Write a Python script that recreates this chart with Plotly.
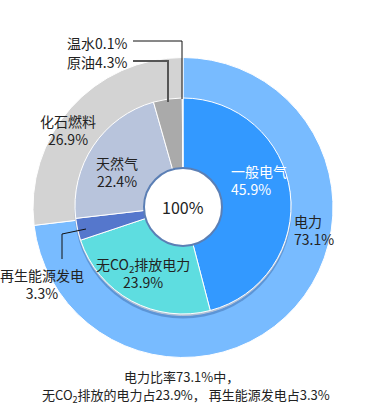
import plotly.graph_objects as go

W, H = 366, 414

# ---- data ----
outer_labels = ["电力", "化石燃料"]
outer_values = [73.1, 26.9]
inner_labels = ["一般电气", "无CO<sub>2</sub>排放电力", "再生能源发电", "天然气", "原油", "温水"]
inner_values = [45.9, 23.9, 3.3, 22.4, 4.3, 0.1]
total_label = "100%"
note_lines = ["电力比率73.1%中，", "无CO<sub>2</sub>排放的电力占23.9%， 再生能源发电占3.3%"]

outer_colors = ["#78BBFF", "#D3D3D3"]
inner_colors = ["#3399FF", "#5EDDE0", "#5577CC", "#B8C4DC", "#AAAAAA", "#C8C8C8"]

FONT = "Noto Sans CJK SC"
TXT = "#222222"


def px(x, y):
    return x / W, 1 - y / H


def dom(cx, cy, r):
    return dict(x=[(cx - r) / W, (cx + r) / W], y=[(H - cy - r) / H, (H - cy + r) / H])


fig = go.Figure()
fig.add_trace(go.Pie(
    labels=outer_labels, values=outer_values, sort=False, direction="clockwise", rotation=0,
    hole=108 / 150, domain=dom(183, 207.5, 150), textinfo="none", hoverinfo="skip",
    marker=dict(colors=outer_colors, line=dict(color="white", width=1)), showlegend=False))
# soft shadow under the inner ring
fig.add_trace(go.Pie(
    labels=["s"], values=[1], sort=False, domain=dom(183, 210, 108.5), textinfo="none",
    hoverinfo="skip", marker=dict(colors=["rgba(40,80,140,0.35)"], line=dict(width=0)),
    showlegend=False))
fig.add_trace(go.Pie(
    labels=inner_labels, values=inner_values, sort=False, direction="clockwise", rotation=0,
    hole=0.3, domain=dom(183, 206, 108), textinfo="none", hoverinfo="skip",
    marker=dict(colors=inner_colors, line=dict(color="white", width=1)), showlegend=False))

shapes = []
# center circle
x0, y1 = px(144, 168)
x1, y0 = px(222, 246)
shapes.append(dict(type="circle", xref="paper", yref="paper", x0=x0, x1=x1, y0=y0, y1=y1,
                   fillcolor="white", line=dict(color="#5B7FB5", width=2), layer="above"))


def poly(points, color, width):
    path = ""
    for i, (x, y) in enumerate(points):
        xx, yy = px(x, y)
        path += ("M" if i == 0 else "L") + f"{xx},{yy} "
    return dict(type="path", xref="paper", yref="paper", path=path.strip(),
                line=dict(color=color, width=width), layer="above")


shapes.append(poly([(133, 41), (182, 41), (182, 99)], "#111111", 1))
shapes.append(poly([(133, 61), (168, 61), (168, 102)], "#555555", 2))
shapes.append(poly([(86, 229), (62, 234), (62, 259)], "#111111", 1))

ann = []


def label(text, x, y, xanchor="center", color=TXT, size=14, align="center"):
    xx, yy = px(x, y)
    ann.append(dict(text=text, x=xx, y=yy, xref="paper", yref="paper", xanchor=xanchor,
                    yanchor="middle", align=align, showarrow=False,
                    font=dict(family=FONT, size=size, color=color)))


def pct(v):
    return f"{v}%"


label(f"{inner_labels[0]}<br>{pct(inner_values[0])}", 229, 180, "left", "white", align="left")
label(f"{outer_labels[0]}<br>{pct(outer_values[0])}", 292, 230, "left", align="left")
label(f"{inner_labels[3]}<br>{pct(inner_values[3])}", 117, 171.5)
label(f"{inner_labels[1]}<br>{pct(inner_values[1])}", 143, 273)
label(f"{inner_labels[2]}<br>{pct(inner_values[2])}", 42, 283.5)
label(f"{outer_labels[1]}<br>{pct(outer_values[1])}", 68, 129.5)
label(f"{inner_labels[4]}{pct(inner_values[4])}", 129, 62, "right")
label(f"{inner_labels[5]}{pct(inner_values[5])}", 129, 43, "right")
label(total_label, 183, 207, size=16)
label(note_lines[0], 181, 376, size=13)
label(note_lines[1], 186, 395, size=13)

fig.update_layout(width=W, height=H, margin=dict(l=0, r=0, t=0, b=0),
                  paper_bgcolor="white", plot_bgcolor="white",
                  shapes=shapes, annotations=ann, font=dict(family=FONT, color=TXT))
fig.write_html("out.html", config={"displayModeBar": False},
               post_script="document.body.style.margin='0';document.body.style.overflow='hidden';")
